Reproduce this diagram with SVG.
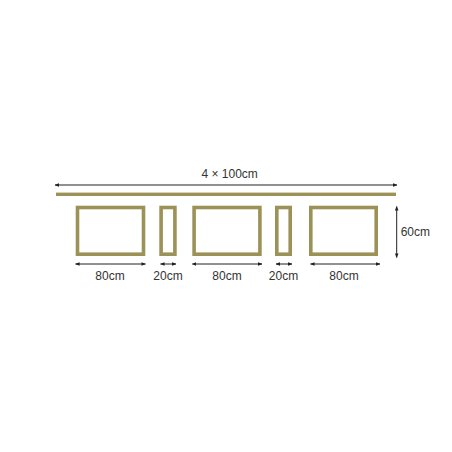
<svg xmlns="http://www.w3.org/2000/svg" width="452" height="452" viewBox="0 0 452 452">
<style>
.frame{fill:#ffffff;stroke:#9c9257;stroke-width:3.6}
.dim{stroke:#222;stroke-width:1;fill:none;marker-start:url(#ah);marker-end:url(#ah)}
.lbl{font-family:"Liberation Sans",Arial,sans-serif;font-size:12px;fill:#333;text-anchor:middle}
</style>
<defs>
<marker id="ah" viewBox="0 0 10 10" refX="9" refY="5" markerWidth="4.5" markerHeight="4.5" orient="auto-start-reverse" markerUnits="userSpaceOnUse">
<path d="M0,1 L10,5 L0,9 Z" fill="#222"/>
</marker>
</defs>
<rect width="452" height="452" fill="#ffffff"/>
<g id="rail"><rect x="56" y="192.6" width="340" height="3.4" fill="#9c9257"/></g>
<g id="frame1"><rect class="frame" x="77.5" y="207.5" width="66" height="46.7"/></g>
<g id="frame2"><rect class="frame" x="161.1" y="207.5" width="13.8" height="46.7"/></g>
<g id="frame3"><rect class="frame" x="194.1" y="207.5" width="65.8" height="46.7"/></g>
<g id="frame4"><rect class="frame" x="276.8" y="207.5" width="13.4" height="46.7"/></g>
<g id="frame5"><rect class="frame" x="310.8" y="207.5" width="65.4" height="46.7"/></g>
<g id="connectors">
<line class="dim" x1="55" y1="185" x2="397" y2="185"/>
<line class="dim" x1="396.7" y1="206.5" x2="396.7" y2="257.5"/>
<line class="dim" x1="75.5" y1="264" x2="145.5" y2="264"/>
<line class="dim" x1="160.5" y1="264" x2="176" y2="264"/>
<line class="dim" x1="192.3" y1="264" x2="262" y2="264"/>
<line class="dim" x1="276" y1="264" x2="292" y2="264"/>
<line class="dim" x1="310.5" y1="264" x2="380" y2="264"/>
</g>
<g id="labels">
<text class="lbl" x="229.7" y="177.5">4 × 100cm</text>
<text class="lbl" x="415.3" y="236.3">60cm</text>
<text class="lbl" x="110" y="279.5">80cm</text>
<text class="lbl" x="168" y="279.5">20cm</text>
<text class="lbl" x="227" y="279.5">80cm</text>
<text class="lbl" x="283.5" y="279.5">20cm</text>
<text class="lbl" x="344" y="279.5">80cm</text>
</g>
</svg>
